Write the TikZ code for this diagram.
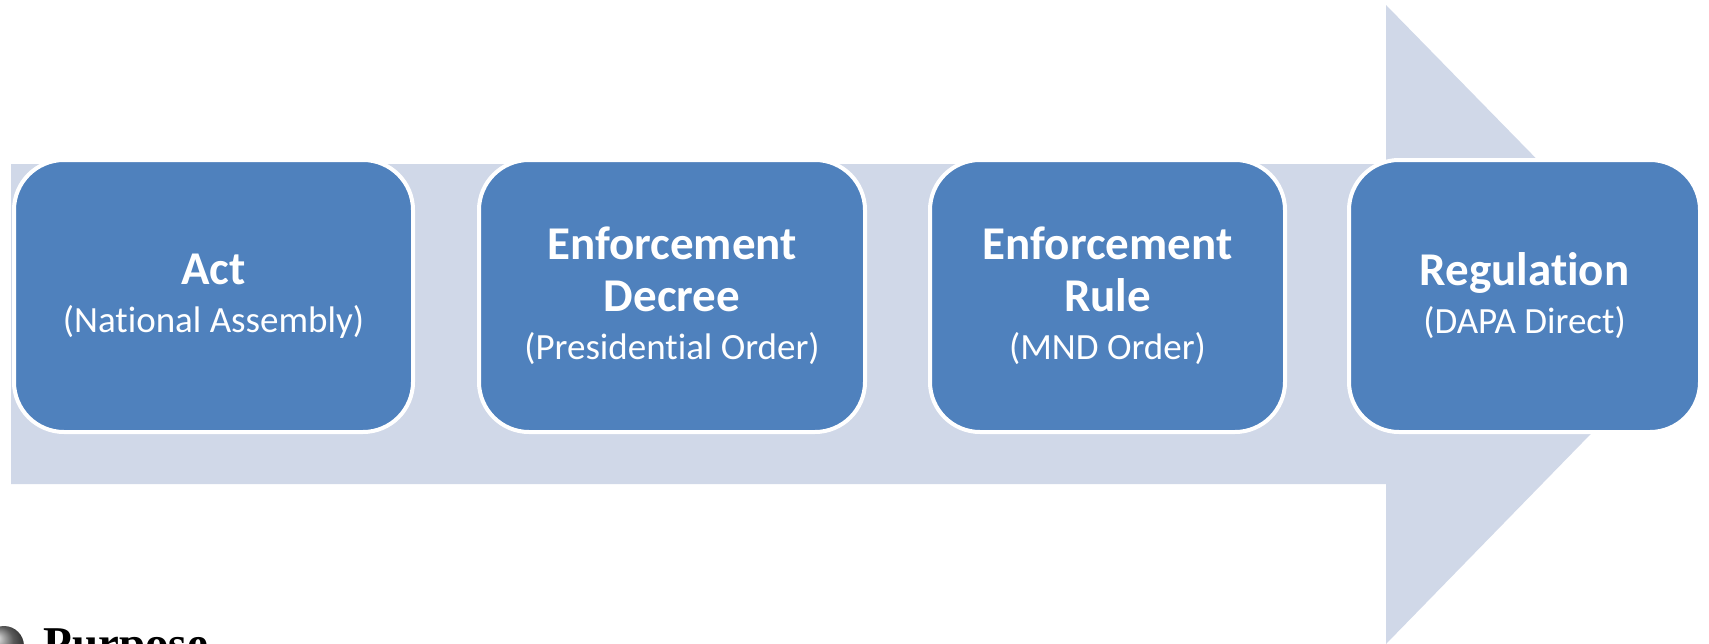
\documentclass[tikz,border=0pt]{standalone}
\usepackage{fontspec}
\setmainfont{Carlito}[Ligatures=NoCommon]
\newfontfamily\timesfont{Liberation Serif}
\usepackage{tikz}
\definecolor{stageblue}{HTML}{4F81BD}
\definecolor{flowgray}{HTML}{D0D8E8}
\newcommand{\stagename}[1]{{\bfseries\fontsize{23.5}{26}\selectfont #1}}

\begin{document}
\begin{tikzpicture}[x=0.5pt, y=-0.5pt,
  stage/.style={draw=white, line width=2pt, fill=stageblue, rounded corners=25pt,
    minimum height=136pt, align=center, text=white, inner sep=0pt,
    font=\fontsize{18.5}{26}\selectfont}]
\useasboundingbox (0,0) rectangle (1709,643);
\clip (0,0) rectangle (1709,643);

% big arrow behind the boxes
\fill[flowgray] (11,164) -- (1386,164) -- (1386,5) -- (1698,324)
  -- (1386,644) -- (1386,484) -- (11,484) -- cycle;

% the four stages
\node[stage, minimum width=199.5pt] (act) at (213.5,296)
  {\stagename{Act}\\[-2pt](National Assembly)};
\node[stage, minimum width=193pt] (decree) at (672,296)
  {\stagename{Enforcement}\\\stagename{Decree}\\[-2pt](Presidential Order)};
\node[stage, minimum width=177.5pt] (rule) at (1107.5,296)
  {\stagename{Enforcement}\\\stagename{Rule}\\[-2pt](MND Order)};
\node[stage, minimum width=175.5pt] (regulation) at (1524.5,296)
  {\stagename{Regulation}\\[-2pt](DAPA Direct)};

% heading cut off at the bottom
\shade[ball color=gray] (4,646) circle[radius=20];
\node[anchor=base west, inner sep=0pt, font=\timesfont\bfseries\fontsize{23.5}{28}\selectfont]
  (purpose) at (43,659) {Purpose};
\end{tikzpicture}
\end{document}
